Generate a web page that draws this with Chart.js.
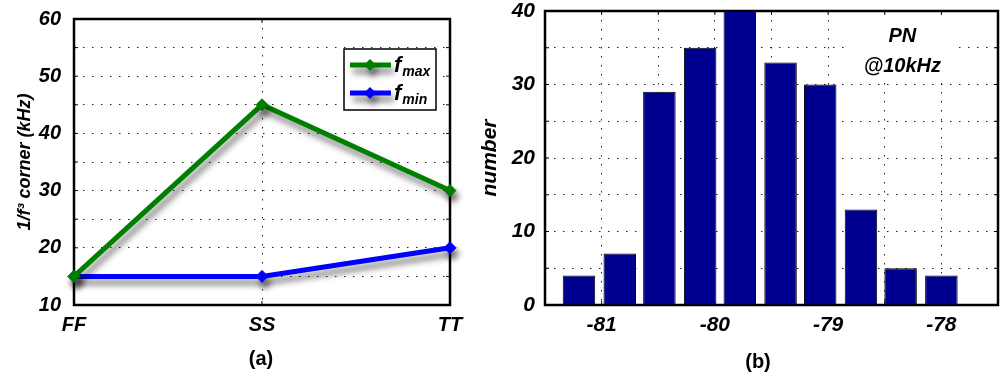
<!DOCTYPE html>
<html lang="en">

<head>
    <meta charset="UTF-8">
    <title>Flicker corner and phase noise spread</title>
    <script src="https://cdn.jsdelivr.net/npm/chart.js"></script>
    <style>
        body {
            margin: 0;
            background: #fff;
        }

        #figure {
            position: relative;
            width: 1003px;
            height: 380px;
        }

        .panel {
            position: absolute;
            top: 0;
            height: 380px;
        }

        .caption {
            position: absolute;
            transform: translateX(-50%);
            font: bold 20px 'Liberation Sans', Arial, sans-serif;
            line-height: 24px;
        }
    </style>
</head>

<body>
    <div id="figure">
        <div class="panel" style="left:0;width:480px"><canvas id="cornerChart"></canvas></div>
        <div class="panel" style="left:480px;width:523px"><canvas id="pnChart"></canvas></div>
        <div class="caption" style="left:261px;top:346px">(a)</div>
        <div class="caption" style="left:758px;top:349px">(b)</div>
    </div>

    <script>
        // (a) 1/f^3 corner per process corner, kHz
        const corners = ['FF', 'SS', 'TT'];
        const fMax = [15, 45, 30];
        const fMin = [15, 15, 20];
        const legendNames = [['f', 'max'], ['f', 'min']];

        // (b) histogram of phase noise at 10 kHz offset
        const pnBins = [-81.2, -80.84, -80.49, -80.13, -79.78, -79.42, -79.07, -78.71, -78.36, -78.0];
        const pnCounts = [4, 7, 29, 35, 40, 33, 30, 13, 5, 4];
        const noteLines = ['PN', '@10kHz'];

        const FONT = "'Liberation Sans', Arial, sans-serif";
        const GRID = '#222';
        const DOTS = [1.5, 7.5];

        function tickFont(size) {
            return { family: FONT, size: size, weight: 'bold', style: 'italic' };
        }

        // fixed axis sizes, and no extra room for overhanging tick labels
        function fixSize(w, h) {
            return s => {
                if (w) s.width = w;
                if (h) s.height = h;
                s.paddingTop = s.paddingBottom = s.paddingLeft = s.paddingRight = 0;
            };
        }

        // box around the plot area plus small inward tick marks on all four sides
        const framePlugin = {
            id: 'frame',
            beforeDatasetsDraw(chart) {
                const { ctx, chartArea: a } = chart;
                const xs = chart.scales.x, ys = chart.scales.y;
                ctx.save();
                ctx.strokeStyle = '#000';
                ctx.lineWidth = 1;
                ctx.beginPath();
                xs.ticks.forEach((t, i) => {
                    const px = xs.getPixelForTick(i);
                    ctx.moveTo(px, a.top); ctx.lineTo(px, a.top + 4);
                    ctx.moveTo(px, a.bottom); ctx.lineTo(px, a.bottom - 4);
                });
                ys.ticks.forEach((t, i) => {
                    const py = ys.getPixelForTick(i);
                    ctx.moveTo(a.left, py); ctx.lineTo(a.left + 4, py);
                    ctx.moveTo(a.right, py); ctx.lineTo(a.right - 4, py);
                });
                ctx.stroke();
                ctx.lineWidth = 2.5;
                ctx.strokeRect(a.left, a.top, a.width, a.height);
                ctx.restore();
            }
        };

        function setShadow(ctx) {
            ctx.shadowColor = 'rgba(0,0,0,0.5)';
            ctx.shadowBlur = 6;
            ctx.shadowOffsetX = 3;
            ctx.shadowOffsetY = 6;
        }

        const shadowPlugin = {
            id: 'lineShadow',
            beforeDatasetsDraw(chart) {
                chart.ctx.save();
                setShadow(chart.ctx);
            },
            afterDatasetsDraw(chart) {
                chart.ctx.restore();
            }
        };

        function diamond(ctx, x, y, r) {
            ctx.beginPath();
            ctx.moveTo(x - r, y);
            ctx.lineTo(x, y - r);
            ctx.lineTo(x + r, y);
            ctx.lineTo(x, y + r);
            ctx.closePath();
            ctx.fill();
        }

        // legend with subscripted names, drawn by hand
        const subLegendPlugin = {
            id: 'subLegend',
            afterDraw(chart) {
                const { ctx, chartArea: a } = chart;
                const w = 92, h = 61;
                const x = a.right - 14 - w, y = a.top + 30;
                ctx.save();
                ctx.fillStyle = '#fff';
                ctx.fillRect(x, y, w, h);
                ctx.strokeStyle = '#000';
                ctx.lineWidth = 1.5;
                ctx.strokeRect(x, y, w, h);
                chart.data.datasets.forEach((ds, i) => {
                    const ly = y + 16 + i * 28;
                    ctx.save();
                    setShadow(ctx);
                    ctx.strokeStyle = ds.borderColor;
                    ctx.fillStyle = ds.borderColor;
                    ctx.lineWidth = 5;
                    ctx.beginPath();
                    ctx.moveTo(x + 6, ly);
                    ctx.lineTo(x + 47, ly);
                    ctx.stroke();
                    diamond(ctx, x + 26, ly, 6);
                    ctx.restore();
                    const [main, sub] = legendNames[i];
                    ctx.fillStyle = '#000';
                    ctx.textBaseline = 'alphabetic';
                    ctx.font = `italic bold 22px ${FONT}`;
                    ctx.fillText(main, x + 50, ly + 7);
                    const mw = ctx.measureText(main).width;
                    ctx.font = `italic bold 14px ${FONT}`;
                    ctx.fillText(sub, x + 50 + mw + 1, ly + 11);
                });
                ctx.restore();
            }
        };

        // text note with white background in the upper right of the histogram
        const notePlugin = {
            id: 'note',
            beforeDatasetsDraw(chart) {
                const { ctx } = chart;
                const xs = chart.scales.x, ys = chart.scales.y;
                const left = xs.getPixelForValue(-78.83), right = xs.getPixelForValue(-77.86);
                const top = ys.getPixelForValue(39), bottom = ys.getPixelForValue(30.9);
                ctx.save();
                ctx.fillStyle = '#fff';
                ctx.fillRect(left, top, right - left, bottom - top);
                ctx.fillStyle = '#000';
                ctx.font = `italic bold 20px ${FONT}`;
                ctx.textAlign = 'center';
                ctx.textBaseline = 'middle';
                const cx = (left + right) / 2;
                ctx.fillText(noteLines[0], cx, ys.getPixelForValue(36.5));
                ctx.fillText(noteLines[1], cx, ys.getPixelForValue(32.4));
                ctx.restore();
            }
        };

        new Chart(document.getElementById('cornerChart'), {
            type: 'line',
            data: {
                labels: corners,
                datasets: [
                    {
                        label: 'fmax',
                        data: fMax,
                        borderColor: 'rgb(0,128,0)',
                        backgroundColor: 'rgb(0,128,0)',
                        borderWidth: 5,
                        pointStyle: 'rectRot',
                        pointRadius: 6,
                        pointBorderWidth: 1,
                        tension: 0,
                        clip: false
                    },
                    {
                        label: 'fmin',
                        data: fMin,
                        borderColor: 'rgb(0,0,255)',
                        backgroundColor: 'rgb(0,0,255)',
                        borderWidth: 5,
                        pointStyle: 'rectRot',
                        pointRadius: 6,
                        pointBorderWidth: 1,
                        tension: 0,
                        clip: false
                    }
                ]
            },
            options: {
                responsive: true,
                maintainAspectRatio: false,
                animation: false,
                layout: { padding: { top: 19, right: 30, left: 0, bottom: 0 } },
                plugins: { legend: { display: false }, tooltip: { enabled: false } },
                scales: {
                    x: {
                        offset: false,
                        grid: {
                            drawTicks: false,
                            color: ctx => ctx.index === 1 ? GRID : 'rgba(0,0,0,0)'
                        },
                        border: { display: false, dash: DOTS },
                        ticks: { color: '#000', font: tickFont(20), padding: 8, maxRotation: 0 },
                        afterFit: fixSize(0, 75)
                    },
                    y: {
                        min: 10,
                        max: 60,
                        grid: { drawTicks: false, color: GRID },
                        border: { display: false, dash: DOTS },
                        ticks: {
                            stepSize: 5,
                            color: '#000',
                            font: tickFont(20),
                            padding: 13,
                            callback: v => v % 10 === 0 ? v : ''
                        },
                        title: {
                            display: true,
                            text: '1/f³ corner (kHz)',
                            color: '#000',
                            font: { family: FONT, size: 18, weight: 'bold', style: 'italic' },
                            padding: { top: 14, bottom: 0 }
                        },
                        afterFit: fixSize(74, 0)
                    }
                }
            },
            plugins: [framePlugin, shadowPlugin, subLegendPlugin]
        });

        new Chart(document.getElementById('pnChart'), {
            type: 'bar',
            data: {
                datasets: [{
                    label: 'number',
                    data: pnBins.map((b, i) => ({ x: b, y: pnCounts[i] })),
                    backgroundColor: '#00008F',
                    borderColor: '#000',
                    borderWidth: 1,
                    barPercentage: 0.82,
                    categoryPercentage: 1
                }]
            },
            options: {
                responsive: true,
                maintainAspectRatio: false,
                animation: false,
                layout: { padding: { top: 11, right: 5, left: 0, bottom: 0 } },
                plugins: { legend: { display: false }, tooltip: { enabled: false } },
                scales: {
                    x: {
                        type: 'linear',
                        min: -81.5,
                        max: -77.5,
                        offset: false,
                        grid: { drawTicks: false, color: GRID, offset: false },
                        border: { display: false, dash: DOTS },
                        ticks: {
                            stepSize: 0.5,
                            autoSkip: false,
                            maxRotation: 0,
                            color: '#000',
                            font: tickFont(21),
                            padding: 8,
                            callback: v => Number.isInteger(v) ? v : ''
                        },
                        afterFit: fixSize(0, 75)
                    },
                    y: {
                        min: 0,
                        max: 40,
                        grid: { drawTicks: false, color: GRID },
                        border: { display: false, dash: DOTS },
                        ticks: {
                            stepSize: 5,
                            color: '#000',
                            font: tickFont(21),
                            padding: 10,
                            callback: v => v % 10 === 0 ? v : ''
                        },
                        title: {
                            display: true,
                            text: 'number',
                            color: '#000',
                            font: { family: FONT, size: 21, weight: 'bold', style: 'italic', lineHeight: 1 },
                            padding: 0
                        },
                        afterFit: fixSize(65, 0)
                    }
                }
            },
            plugins: [notePlugin, framePlugin]
        });
    </script>
</body>

</html>
